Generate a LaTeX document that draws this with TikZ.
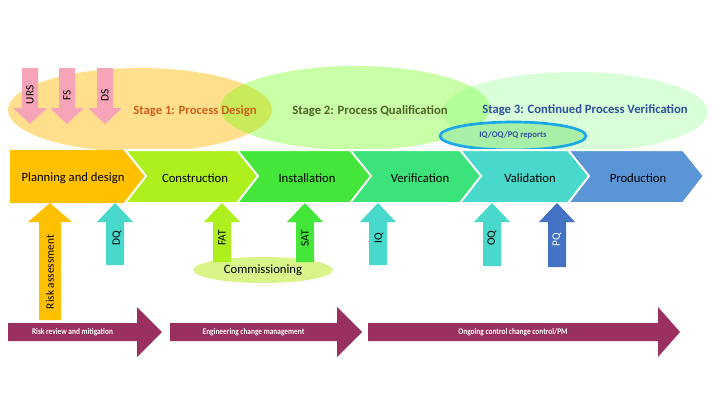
\documentclass[tikz,border=0pt]{standalone}
\usepackage{fontspec}
\setmainfont{Carlito}
\begin{document}
\begin{tikzpicture}[x=0.75pt,y=-0.75pt,
  lbl/.style={font=\fontsize{9.5}{11}\selectfont,text=black,inner sep=0pt},
  stg/.style={font=\bfseries\fontsize{9.5}{11}\selectfont,inner sep=0pt},
  vlbl/.style={font=\fontsize{8.5}{10}\selectfont,rotate=90,inner sep=0pt},
  blbl/.style={font=\bfseries\fontsize{6.5}{8}\selectfont,text=white,inner sep=0pt,xscale=0.85}]
\definecolor{cPlan}{HTML}{FFC000}
\definecolor{cCons}{HTML}{AEF01E}
\definecolor{cInst}{HTML}{44E63A}
\definecolor{cVer}{HTML}{3BE37A}
\definecolor{cVal}{HTML}{48D8CC}
\definecolor{cProd}{HTML}{5A96D6}
\definecolor{cPQ}{HTML}{4472C4}
\definecolor{cPink}{HTML}{F7A3B8}
\definecolor{cMar}{HTML}{993060}
\definecolor{cS1}{HTML}{D0601A}
\definecolor{cS2}{HTML}{4F6228}
\definecolor{cS3}{HTML}{2F4F9F}
\definecolor{cRepB}{HTML}{1AA8E8}
\definecolor{cRepF}{HTML}{A8F0A8}
\definecolor{cComm}{HTML}{D9F58A}
\useasboundingbox (0,0) rectangle (719,407);
\fill[white] (0,0) rectangle (719,407);
% stage ellipses
\fill[orange!55!yellow,opacity=0.45] (140,110) ellipse [x radius=132,y radius=42];
\fill[green!60!yellow,opacity=0.35] (355,108) ellipse [x radius=135,y radius=42];
\fill[green!50!white,opacity=0.3] (575,112) ellipse [x radius=133,y radius=40];
% URS FS DS down arrows
\newcommand\dnarr[3]{%
  \fill[cPink] (#1-8,68) -- (#1+8,68) -- (#1+8,108) -- (#1+17,108) -- (#1,124) -- (#1-17,108) -- (#1-8,108) -- cycle;
  \node[vlbl] (#3) at (#1,95) {#2};}
\dnarr{30}{URS}{urs}
\dnarr{67}{FS}{fs}
\dnarr{105}{DS}{ds}
\node[stg,text=cS1] (s1) at (195,111) {Stage 1: Process Design};
\node[stg,text=cS2] (s2) at (370,111) {Stage 2: Process Qualification};
\node[stg,text=cS3] (s3) at (585,110) {Stage 3: Continued Process Verification};
\draw[line width=2pt,draw=cRepB,fill=cRepF] (513,136) ellipse [x radius=73,y radius=14];
\node[font=\bfseries\fontsize{6.5}{8}\selectfont,text=cS3] (rep) at (513,135) {IQ/OQ/PQ reports};
% chevrons
\fill[cPlan] (10,150) -- (125,150) -- (145,176) -- (125,203) -- (10,203) -- cycle;
\newcommand\chev[4]{%
  \fill[#2,draw=white,line width=1.5pt] (#1,150) -- (#1+115,150) -- (#1+136,176) -- (#1+115,203) -- (#1,203) -- (#1+21,176) -- cycle;
  \node[lbl] (#4) at (#1+70,178) {#3};}
\node[lbl] (plan) at (73,178) {Planning and design};
\chev{125}{cCons}{Construction}{cons}
\chev{237}{cInst}{Installation}{inst}
\chev{350}{cVer}{Verification}{ver}
\chev{460}{cVal}{Validation}{val}
\chev{568}{cProd}{Production}{prod}
% up arrows
\newcommand\uparr[5]{%
  \fill[#4] (#1,#2) -- (#1+#5,#2+19) -- (#1+#5/2,#2+19) -- (#1+#5/2,#3) -- (#1-#5/2,#3) -- (#1-#5/2,#2+19) -- (#1-#5,#2+19) -- cycle;}
\fill[cComm] (263,270) ellipse [x radius=70,y radius=13];
\node[lbl] (comm) at (263,270) {Commissioning};
\uparr{50}{203}{320}{cPlan}{22}
\node[vlbl] (risk) at (50,272) {Risk assessment};
\uparr{115}{203}{265}{cVal}{18}
\node[vlbl] (dq) at (117,238) {DQ};
\uparr{222}{203}{262}{cCons}{18}
\node[vlbl] (fat) at (222,238) {FAT};
\uparr{305}{203}{262}{cInst}{18}
\node[vlbl] (sat) at (305,238) {SAT};
\uparr{378}{203}{265}{cVal}{18}
\node[vlbl] (iq) at (379,238) {IQ};
\uparr{492}{203}{266}{cVal}{18}
\node[vlbl] (oq) at (492,238) {OQ};
\uparr{557}{203}{267}{cPQ}{18}
\node[vlbl,text=white] (pq) at (557,240) {PQ};
% bottom arrows
\newcommand\barr[5]{%
  \fill[cMar] (#1,323) -- (#3,323) -- (#3,307) -- (#2,332) -- (#3,357) -- (#3,341) -- (#1,341) -- cycle;
  \node[blbl] (#5) at ({(#1+#3)/2},332) {#4};}
\barr{8}{162}{137}{Risk review and mitigation}{b1}
\barr{170}{362}{337}{Engineering change management}{b2}
\barr{368}{680}{658}{Ongoing control change control/PM}{b3}
\end{tikzpicture}
\end{document}
